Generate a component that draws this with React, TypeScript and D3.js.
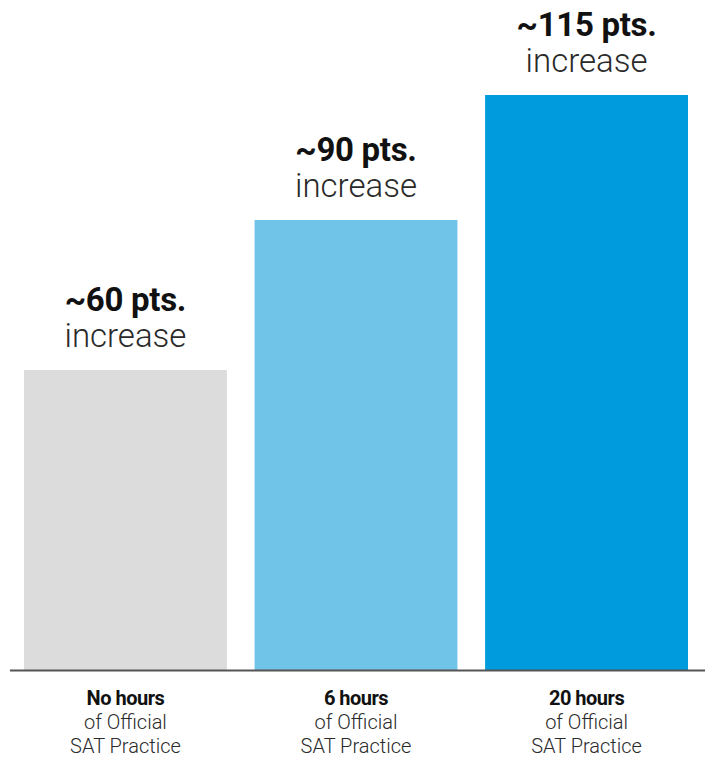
import React, { useEffect, useRef } from "react";
import * as d3 from "d3";

const categories = ["No hours", "6 hours", "20 hours"];
const increases = [60, 90, 115];
const valueLabels = ["~60 pts.", "~90 pts.", "~115 pts."];
const subLines = ["of Official", "SAT Practice"];
const barColors = ["#dcdcdc", "#70c4e8", "#009bdc"];

const App = () => {
  const ref = useRef<SVGSVGElement | null>(null);

  useEffect(() => {
    if (!ref.current) return;
    const width = 705;
    const height = 759;
    const baseline = 670;
    const svg = d3.select(ref.current);
    svg.selectAll("*").remove();

    const x = d3.scaleBand()
      .domain(categories)
      .range([24, 688])
      .paddingInner(0.12)
      .paddingOuter(0);
    const y = d3.scaleLinear()
      .domain([0, 115])
      .range([baseline, 95]);

    const data = categories.map((c, i) => ({ c, v: increases[i], label: valueLabels[i], color: barColors[i] }));

    svg.selectAll(".bar")
      .data(data)
      .enter().append("rect")
      .attr("class", "bar")
      .attr("x", d => x(d.c)!)
      .attr("y", d => y(d.v))
      .attr("width", x.bandwidth())
      .attr("height", d => baseline - y(d.v))
      .attr("fill", d => d.color);

    // axis line
    svg.append("line")
      .attr("x1", 10)
      .attr("x2", width)
      .attr("y1", baseline + 0.5)
      .attr("y2", baseline + 0.5)
      .attr("stroke", "#555")
      .attr("stroke-width", 2);

    const font = "Roboto, 'Helvetica Neue', Arial, sans-serif";

    // value labels above bars
    const tops = svg.selectAll(".val")
      .data(data)
      .enter().append("g")
      .attr("transform", d => `translate(${x(d.c)! + x.bandwidth() / 2},${y(d.v)})`);
    tops.append("text")
      .attr("y", -59)
      .attr("text-anchor", "middle")
      .attr("font-family", font)
      .attr("font-weight", 700)
      .attr("font-size", 33)
      .attr("letter-spacing", -0.3)
      .attr("fill", "#111")
      .text(d => d.label);
    tops.append("text")
      .attr("y", -23)
      .attr("text-anchor", "middle")
      .attr("font-family", font)
      .attr("font-weight", 300)
      .attr("font-size", 33)
      .attr("fill", "#2a2a2a")
      .text("increase");

    // category labels
    const cats = svg.selectAll(".cat")
      .data(data)
      .enter().append("g")
      .attr("transform", d => `translate(${x(d.c)! + x.bandwidth() / 2},0)`);
    cats.append("text")
      .attr("y", 705)
      .attr("text-anchor", "middle")
      .attr("font-family", font)
      .attr("font-weight", 700)
      .attr("font-size", 20)
      .attr("letter-spacing", -0.5)
      .attr("fill", "#111")
      .text(d => d.c);
    subLines.forEach((line, i) => {
      cats.append("text")
        .attr("y", 729 + i * 24)
        .attr("text-anchor", "middle")
        .attr("font-family", font)
        .attr("font-weight", 300)
        .attr("font-size", 20)
        .attr("fill", "#2a2a2a")
        .text(line);
    });

    svg.attr("width", width).attr("height", height);
  }, []);

  return (
    <svg
      ref={ref}
      width={705}
      height={759}
      style={{ position: "absolute", left: 0, top: 0, background: "#fff" }}
    />
  );
};

export default App;
